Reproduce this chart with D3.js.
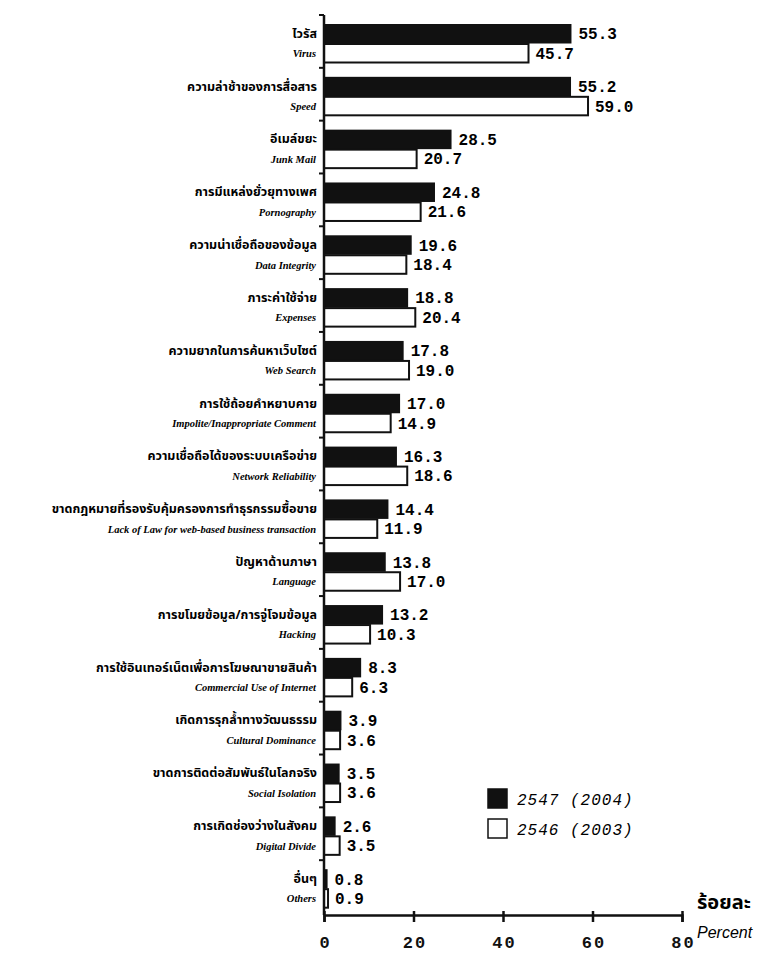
<!DOCTYPE html>
<html lang="th">
<head>
<meta charset="UTF-8">
<title>Internet problems 2546-2547</title>
<style>
  body { margin: 0; padding: 0; background: #fff; }
  svg { display: block; }
  .th { font-family: "Noto Sans Thai", "Noto Sans", "DejaVu Sans", sans-serif; font-weight: bold; font-size: 12.5px; }
  .en { font-family: "Liberation Serif", serif; font-style: italic; font-weight: bold; font-size: 10.5px; }
  .val { font-family: "Liberation Mono", monospace; font-weight: bold; font-size: 16px; }
</style>
</head>
<body>
<svg width="765" height="962"></svg>
<script src="https://d3js.org/d3.v7.min.js"></script>
<script>
// categories (Thai + English), top to bottom
const thaiLabels = [
  "ไวรัส", "ความล่าช้าของการสื่อสาร", "อีเมล์ขยะ", "การมีแหล่งยั่วยุทางเพศ",
  "ความน่าเชื่อถือของข้อมูล", "ภาระค่าใช้จ่าย", "ความยากในการค้นหาเว็บไซต์",
  "การใช้ถ้อยคำหยาบคาย", "ความเชื่อถือได้ของระบบเครือข่าย",
  "ขาดกฎหมายที่รองรับคุ้มครองการทำธุรกรรมซื้อขาย", "ปัญหาด้านภาษา",
  "การขโมยข้อมูล/การจู่โจมข้อมูล", "การใช้อินเทอร์เน็ตเพื่อการโฆษณาขายสินค้า",
  "เกิดการรุกล้ำทางวัฒนธรรม", "ขาดการติดต่อสัมพันธ์ในโลกจริง",
  "การเกิดช่องว่างในสังคม", "อื่นๆ"
];
const engLabels = [
  "Virus", "Speed", "Junk Mail", "Pornography", "Data Integrity", "Expenses",
  "Web Search", "Impolite/Inappropriate Comment", "Network Reliability",
  "Lack of Law for web-based business transaction", "Language", "Hacking",
  "Commercial Use of Internet", "Cultural Dominance", "Social Isolation",
  "Digital Divide", "Others"
];
const values2547 = [55.3, 55.2, 28.5, 24.8, 19.6, 18.8, 17.8, 17.0, 16.3, 14.4, 13.8, 13.2, 8.3, 3.9, 3.5, 2.6, 0.8];
const values2546 = [45.7, 59.0, 20.7, 21.6, 18.4, 20.4, 19.0, 14.9, 18.6, 11.9, 17.0, 10.3, 6.3, 3.6, 3.6, 3.5, 0.9];
const xTicks = [0, 20, 40, 60, 80];
const seriesNames = ["2547 (2004)", "2546 (2003)"];

const svg = d3.select("svg");
const x0 = 324, xEnd = 682, yTop = 15, yBottom = 915;

const x = d3.scaleLinear().domain([0, 80]).range([x0, xEnd]);
const y = d3.scaleBand().domain(d3.range(thaiLabels.length)).range([yTop, yBottom - 2]);
const barH = 19.5, barOff = 9;

// bars
const g = svg.append("g");
g.selectAll("rect.b47").data(values2547).enter().append("rect")
  .attr("x", x0).attr("y", (d, i) => y(i) + barOff)
  .attr("width", d => x(d) - x0).attr("height", barH)
  .attr("fill", "#111");
g.selectAll("rect.b46").data(values2546).enter().append("rect")
  .attr("x", x0).attr("y", (d, i) => y(i) + barOff + barH + 0.5)
  .attr("width", d => x(d) - x0).attr("height", barH - 1)
  .attr("fill", "#fff").attr("stroke", "#111").attr("stroke-width", 2);

// value labels
g.selectAll("text.v47").data(values2547).enter().append("text")
  .attr("class", "val").attr("x", d => x(d) + 7)
  .attr("y", (d, i) => y(i) + barOff + barH / 2).attr("dy", "0.35em")
  .text(d => d.toFixed(1));
g.selectAll("text.v46").data(values2546).enter().append("text")
  .attr("class", "val").attr("x", d => x(d) + 7)
  .attr("y", (d, i) => y(i) + barOff + barH * 1.5).attr("dy", "0.35em")
  .text(d => d.toFixed(1));

// category labels
g.selectAll("text.th").data(thaiLabels).enter().append("text")
  .attr("class", "th").attr("text-anchor", "end")
  .attr("x", 317).attr("y", (d, i) => y(i) + barOff + barH / 2 + 4)
  .text(d => d);
g.selectAll("text.en").data(engLabels).enter().append("text")
  .attr("class", "en").attr("text-anchor", "end")
  .attr("x", 316).attr("y", (d, i) => y(i) + barOff + barH * 1.5 + 4)
  .text(d => d);

// y axis line with ticks between groups
svg.append("line").attr("x1", x0).attr("x2", x0).attr("y1", yTop).attr("y2", yBottom)
  .attr("stroke", "#111").attr("stroke-width", 2.5);
svg.selectAll("line.ytick").data(d3.range(thaiLabels.length)).enter().append("line")
  .attr("x1", x0 - 5).attr("x2", x0).attr("y1", i => y(i)).attr("y2", i => y(i))
  .attr("stroke", "#111").attr("stroke-width", 2);

// x axis
const xAxis = d3.axisBottom(x).tickValues(xTicks).tickSize(7).tickPadding(14);
const ax = svg.append("g").attr("transform", `translate(0,${yBottom})`).call(xAxis);
ax.select(".domain").attr("stroke", "#111").attr("stroke-width", 2.5);
ax.selectAll(".tick line").attr("stroke", "#111").attr("stroke-width", 2.5).attr("y1", -4);
ax.selectAll(".tick text").attr("font-family", "Liberation Mono, monospace")
  .attr("font-weight", "bold").attr("font-size", 17).attr("fill", "#111")
  .attr("letter-spacing", 2).attr("dx", 1);

// axis title
svg.append("text").attr("x", 697).attr("y", 909).attr("class", "th")
  .style("font-size", "20px").text("ร้อยละ");
svg.append("text").attr("x", 697).attr("y", 938)
  .attr("font-family", "Liberation Sans, sans-serif").attr("font-style", "italic")
  .attr("font-size", 16).text("Percent");

// legend
const legend = svg.append("g").attr("transform", "translate(488,789)");
seriesNames.forEach((name, i) => {
  legend.append("rect").attr("x", 0).attr("y", i * 30).attr("width", 19).attr("height", 19)
    .attr("fill", i === 0 ? "#111" : "#fff").attr("stroke", "#111").attr("stroke-width", 1.5);
  legend.append("text").attr("x", 29).attr("y", i * 30 + 10).attr("dy", "0.35em")
    .attr("font-family", "Liberation Mono, monospace").attr("font-style", "italic")
    .attr("font-size", 16).attr("letter-spacing", 1).text(name);
});
</script>
</body>
</html>
